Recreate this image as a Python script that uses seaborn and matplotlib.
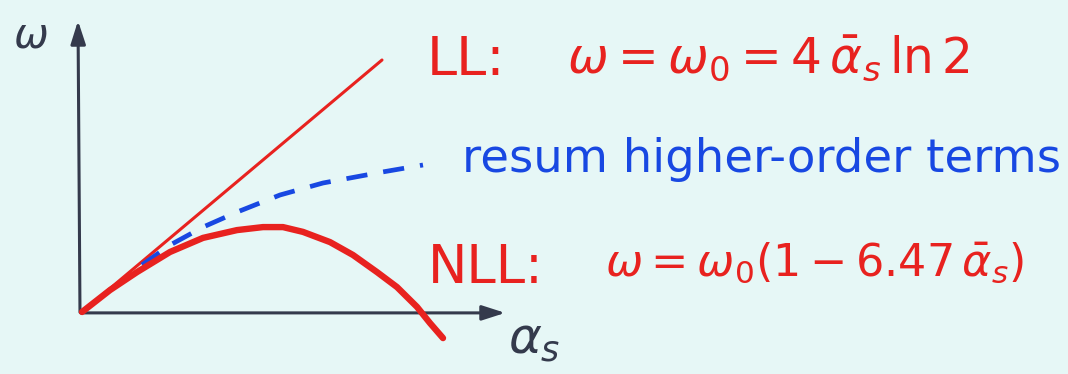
import numpy as np
import pandas as pd
import seaborn as sns
import matplotlib.pyplot as plt
from matplotlib.patches import FancyArrowPatch

# Sketch of the BFKL intercept omega versus alpha_s
ll_alpha = [0.0, 0.75]
ll_omega = [0.0, 0.84]

nll_alpha = [0.0, 0.07, 0.1375, 0.22, 0.3025, 0.3875, 0.4525, 0.5025, 0.5525,
             0.62, 0.6775, 0.7375, 0.7875, 0.8375, 0.87, 0.9025]
nll_omega = [0.0, 0.073, 0.133, 0.2, 0.247, 0.273, 0.283, 0.283, 0.267,
             0.233, 0.19, 0.133, 0.083, 0.017, -0.037, -0.087]

resum_alpha = [0.15, 0.22, 0.3025, 0.3875, 0.495, 0.6025, 0.7525, 0.8525]
resum_omega = [0.157, 0.223, 0.283, 0.333, 0.39, 0.43, 0.467, 0.49]

ll_label = "LL:"
ll_formula = r"$\omega = \omega_0 = 4\,\bar{\alpha}_s\,\ln 2$"
resum_label = "resum higher-order terms"
nll_label = "NLL:"
nll_formula = r"$\omega = \omega_0(1 - 6.47\,\bar{\alpha}_s)$"
y_label = r"$\omega$"
x_label = r"$\alpha_s$"

RED = "#e8221f"
BLUE = "#1848e2"
INK = "#343a4c"
BG = "#e6f7f6"

sns.set_theme(style="white")
plt.rcParams["font.family"] = ["DejaVu Sans"]
plt.rcParams["mathtext.fontset"] = "dejavusans"

fig = plt.figure(figsize=(10.68, 3.74), dpi=100, facecolor=BG)
ax = fig.add_axes([0, 0, 1, 1])
ax.set_facecolor(BG)
ax.set_xlim(-0.205, 2.465)
ax.set_ylim(-0.2067, 1.04)
ax.set_axis_off()

ll = pd.DataFrame({"alpha": ll_alpha, "omega": ll_omega})
nll = pd.DataFrame({"alpha": nll_alpha, "omega": nll_omega})
resum = pd.DataFrame({"alpha": resum_alpha, "omega": resum_omega})

# axes with arrow heads
for start, end in [((-0.005, -0.01), (-0.01, 0.98)), ((-0.01, -0.003), (1.065, -0.003))]:
    ax.add_patch(FancyArrowPatch(start, end, arrowstyle="-|>,head_length=14,head_width=4.5",
                                 color=INK, lw=2.2, mutation_scale=1, zorder=2))

sns.lineplot(data=ll, x="alpha", y="omega", ax=ax, color=RED, lw=2.2, zorder=3)
sns.lineplot(data=nll, x="alpha", y="omega", ax=ax, color=RED, lw=4.6, zorder=4,
             solid_capstyle="round", solid_joinstyle="round")
sns.lineplot(data=resum, x="alpha", y="omega", ax=ax, color=BLUE, lw=3.4, zorder=3,
             linestyle=(0, (4.5, 3.4)))

ax.text(0.8625, 0.79, ll_label, color=RED, fontsize=39, ha="left", va="baseline")
ax.text(1.2125, 0.797, ll_formula, color=RED, fontsize=35, ha="left", va="baseline")
ax.text(0.95, 0.467, resum_label, color=BLUE, fontsize=33.5, ha="left", va="baseline")
ax.text(0.865, 0.097, nll_label, color=RED, fontsize=38, ha="left", va="baseline")
ax.text(1.3075, 0.12, nll_formula, color=RED, fontsize=32, ha="left", va="baseline")
ax.text(-0.172, 0.88, y_label, color=INK, fontsize=30, ha="left", va="baseline")
ax.text(1.065, -0.137, x_label, color=INK, fontsize=36, ha="left", va="baseline")

fig.savefig("out.png", dpi=100, facecolor=BG)
